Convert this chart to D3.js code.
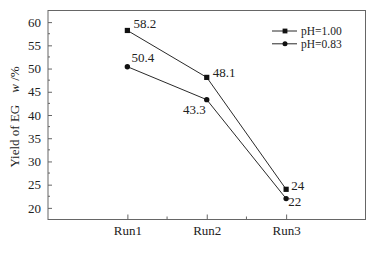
<!DOCTYPE html>
<html><head><meta charset="utf-8">
<script src="https://cdn.jsdelivr.net/npm/d3@7"></script>
<style>
html,body{margin:0;padding:0;background:#fff;}
svg{display:block;font-family:"Liberation Serif","Times New Roman",serif;}
</style></head>
<body><svg id="c" width="377" height="253"></svg>
<script>
const categories = ["Run1","Run2","Run3"];
const seriesNames = ["pH=1.00","pH=0.83"];
const valuesPH100 = [58.2,48.1,24];
const valuesPH083 = [50.4,43.3,22];
const yTicks = [20,25,30,35,40,45,50,55,60];
const yMinorTicks = [17.5,22.5,27.5,32.5,37.5,42.5,47.5,52.5,57.5,62.5];
const yLabel = "Yield of EG";

const svg = d3.select("#c");
const m = {l:48, r:365.5, t:10.5, b:219.5};
const x = d3.scalePoint().domain(categories).range([m.l, m.r]).padding(1);
const y = d3.scaleLinear().domain([17.5,62.5]).range([m.b, m.t]);
const ink = "#111", frame = "#666";

// frame
svg.append("rect").attr("x",m.l).attr("y",m.t).attr("width",m.r-m.l).attr("height",m.b-m.t)
  .attr("fill","none").attr("stroke",frame).attr("stroke-width",1);

// y axis
const ya = svg.append("g").attr("transform",`translate(${m.l},0)`)
  .call(d3.axisLeft(y).tickValues(yTicks).tickSizeInner(-4).tickSizeOuter(0).tickPadding(7));
ya.select(".domain").remove();
ya.selectAll("line").attr("stroke",frame);
ya.selectAll("text").attr("font-size",13).attr("fill","#222").attr("font-family","Liberation Serif");
svg.append("g").selectAll("line").data(yMinorTicks).join("line")
  .attr("x1",m.l).attr("x2",m.l+2).attr("y1",d=>y(d)).attr("y2",d=>y(d)).attr("stroke",frame);

// x axis
const xa = svg.append("g").attr("transform",`translate(0,${m.b})`)
  .call(d3.axisBottom(x).tickSizeInner(-5).tickSizeOuter(0).tickPadding(4));
xa.select(".domain").remove();
xa.selectAll("line").attr("stroke",frame);
xa.selectAll("text").attr("font-size",13).attr("fill","#222").attr("font-family","Liberation Serif").attr("dy","0.9em");
const step = x.step();
const xMinor = categories.slice(0,-1).map(c=>x(c)+step/2);
svg.append("g").selectAll("line").data(xMinor).join("line")
  .attr("x1",d=>d).attr("x2",d=>d).attr("y1",m.b).attr("y2",m.b-3).attr("stroke",frame);

// y label
const yl = svg.append("text").attr("transform","translate(19,117) rotate(-90)")
  .attr("text-anchor","middle").attr("font-size",13).attr("fill","#222");
yl.append("tspan").text(yLabel);
yl.append("tspan").attr("dx",12).attr("font-style","italic").text("w");
yl.append("tspan").text(" /%");

// lines
const line = d3.line().x((d,i)=>x(categories[i])).y(d=>y(d));
[valuesPH100, valuesPH083].forEach(vals=>{
  svg.append("path").attr("d",line(vals)).attr("fill","none").attr("stroke",ink).attr("stroke-width",0.9);
});
// markers
svg.append("g").selectAll("rect").data(valuesPH100).join("rect")
  .attr("x",(d,i)=>x(categories[i])-2.6).attr("y",d=>y(d)-2.6).attr("width",5.2).attr("height",5.2).attr("fill",ink);
svg.append("g").selectAll("circle").data(valuesPH083).join("circle")
  .attr("cx",(d,i)=>x(categories[i])).attr("cy",d=>y(d)).attr("r",2.7).attr("fill",ink);

// data labels
const off100 = [[6,-2.5,"start"],[6,0,"start"],[5,1,"start"]];
const off083 = [[4,-4.5,"start"],[-1,14,"end"],[2,7,"start"]];
function labels(vals, offs){
  svg.append("g").selectAll("text").data(vals).join("text")
    .attr("x",(d,i)=>x(categories[i])+offs[i][0]).attr("y",(d,i)=>y(d)+offs[i][1])
    .attr("text-anchor",(d,i)=>offs[i][2]).attr("font-size",13).attr("fill","#222").text(d=>d);
}
labels(valuesPH100, off100);
labels(valuesPH083, off083);

// legend
const lg = svg.append("g");
seriesNames.forEach((s,i)=>{
  const yy = 31 + i*12.8;
  lg.append("line").attr("x1",272).attr("x2",297).attr("y1",yy).attr("y2",yy).attr("stroke",ink).attr("stroke-width",0.9);
  if(i===0) lg.append("rect").attr("x",285-2.4).attr("y",yy-2.4).attr("width",4.8).attr("height",4.8).attr("fill",ink);
  else lg.append("circle").attr("cx",285).attr("cy",yy).attr("r",2.5).attr("fill",ink);
  lg.append("text").attr("x",301).attr("y",yy+4).attr("font-size",11.5).attr("fill","#222").text(s);
});
</script></body></html>
